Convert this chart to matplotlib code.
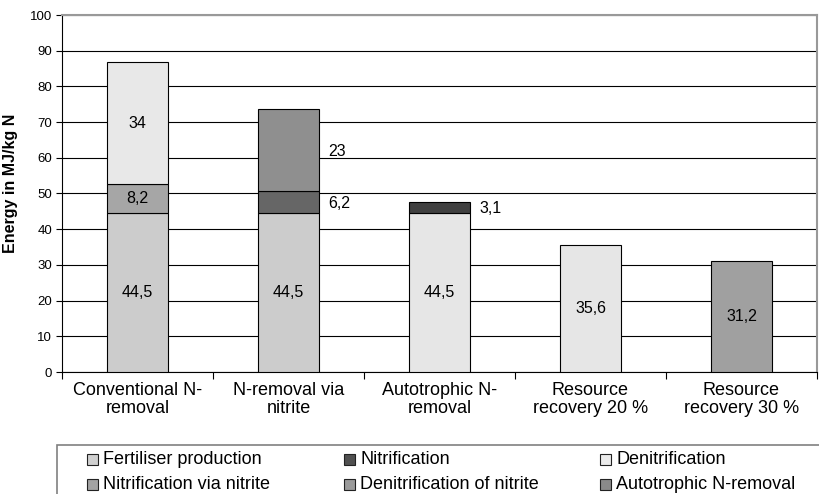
import matplotlib
matplotlib.use("Agg")
import matplotlib.pyplot as plt
from matplotlib.patches import Rectangle
import numpy as np

# ---------------- data ----------------
categories = ["Conventional N-\nremoval", "N-removal via\nnitrite", "Autotrophic N-\nremoval",
              "Resource\nrecovery 20 %", "Resource\nrecovery 30 %"]
fertiliser = [44.5, 44.5, 44.5, 35.6, 31.2]
nitrification = [8.2, 0, 0, 0, 0]
denitrification = [34, 0, 0, 0, 0]
nitrification_nitrite = [0, 6.2, 0, 0, 0]
denitrification_nitrite = [0, 23, 0, 0, 0]
autotrophic = [0, 0, 3.1, 0, 0]
legend_labels = ["Fertiliser production", "Nitrification", "Denitrification",
                 "Nitrification via nitrite", "Denitrification of nitrite", "Autotrophic N-removal"]
y_ticks = [0, 10, 20, 30, 40, 50, 60, 70, 80, 90, 100]

# ---------------- style ----------------
series = [fertiliser, nitrification, denitrification, nitrification_nitrite,
          denitrification_nitrite, autotrophic]
bar_colors = [
    ["#cccccc", "#cccccc", "#e6e6e6", "#e6e6e6", "#a0a0a0"],
    ["#a6a6a6"] * 5,
    ["#e8e8e8"] * 5,
    ["#666666"] * 5,
    ["#8f8f8f"] * 5,
    ["#404040"] * 5,
]
legend_colors = ["#d0d0d0", "#505050", "#ebebeb", "#a3a3a3", "#9a9a9a", "#8a8a8a"]
outside_categories = {1, 2}

FONT = "Liberation Sans"
plt.rcParams["font.family"] = [FONT, "DejaVu Sans"]

W, H = 819, 494
fig = plt.figure(figsize=(W / 100, H / 100), dpi=100)
ax_l, ax_r, ax_t, ax_b = 62, 817, 15, 372
ax = fig.add_axes([ax_l / W, 1 - ax_b / H, (ax_r - ax_l) / W, (ax_b - ax_t) / H])

x = np.arange(len(categories))
width = 0.4
bottom = np.zeros(len(categories))
for si, vals in enumerate(series):
    vals = np.array(vals, dtype=float)
    for ci in range(len(categories)):
        v = vals[ci]
        if v <= 0:
            continue
        ax.bar(x[ci], v, width, bottom=bottom[ci], color=bar_colors[si][ci],
               edgecolor="black", linewidth=0.8, zorder=3)
        label = f"{v:g}".replace(".", ",")
        mid = bottom[ci] + v / 2
        if si > 0 and ci in outside_categories:
            ax.annotate(label, (x[ci] + width / 2, mid), xytext=(7, -1),
                        textcoords="offset points", ha="left", va="center",
                        fontsize=11.5, zorder=4)
        else:
            ax.text(x[ci], mid, label, ha="center", va="center", fontsize=11.5, zorder=4)
    bottom += vals

ax.set_xlim(-0.5, len(categories) - 0.5)
ax.set_ylim(0, 100)
ax.set_yticks(y_ticks)
ax.tick_params(axis="y", labelsize=9.5, length=4, width=0.8, pad=3)
ax.yaxis.grid(True, color="black", linewidth=0.8, zorder=0)
ax.set_axisbelow(True)

ax.set_xticks(np.arange(len(categories) + 1) - 0.5)
ax.set_xticklabels([])
ax.tick_params(axis="x", which="major", length=5, width=0.8)
ax.set_xticks(x, minor=True)
ax.set_xticklabels(categories, minor=True, fontsize=13, linespacing=1.1)
ax.tick_params(axis="x", which="minor", length=0, pad=7)

for s in ["left", "bottom"]:
    ax.spines[s].set_color("black")
    ax.spines[s].set_linewidth(0.8)
for s in ["top", "right"]:
    ax.spines[s].set_color("#999999")
    ax.spines[s].set_linewidth(1.5)

ax.set_ylabel("Energy in MJ/kg N", fontsize=11.5, fontweight="bold")
ax.yaxis.set_label_coords((18.5 - ax_l) / (ax_r - ax_l), (ax_b - 183.5) / (ax_b - ax_t))

# ---------------- legend box (manual, cut off at bottom like the reference) ----------------
def fx(px):
    return px / W


def fy(py):
    return 1 - py / H


fig.patches.append(Rectangle((fx(57), fy(H + 20)), fx(W + 10) - fx(57), fy(445) - fy(H + 20),
                             transform=fig.transFigure, facecolor="white",
                             edgecolor="#808080", linewidth=1.2, zorder=1))
col_x = [87, 344, 600]
row_y = [459, 484]
sq = 11
for i, (lab, col) in enumerate(zip(legend_labels, legend_colors)):
    r, c = divmod(i, 3)
    x0, yc = col_x[c], row_y[r]
    fig.patches.append(Rectangle((fx(x0), fy(yc + sq / 2)), fx(sq), sq / H,
                                 transform=fig.transFigure, facecolor=col,
                                 edgecolor="#222222", linewidth=0.8, zorder=2))
    fig.text(fx(x0 + sq + 5), fy(yc), lab, ha="left", va="center", fontsize=13)

fig.savefig("out.png", dpi=100)
